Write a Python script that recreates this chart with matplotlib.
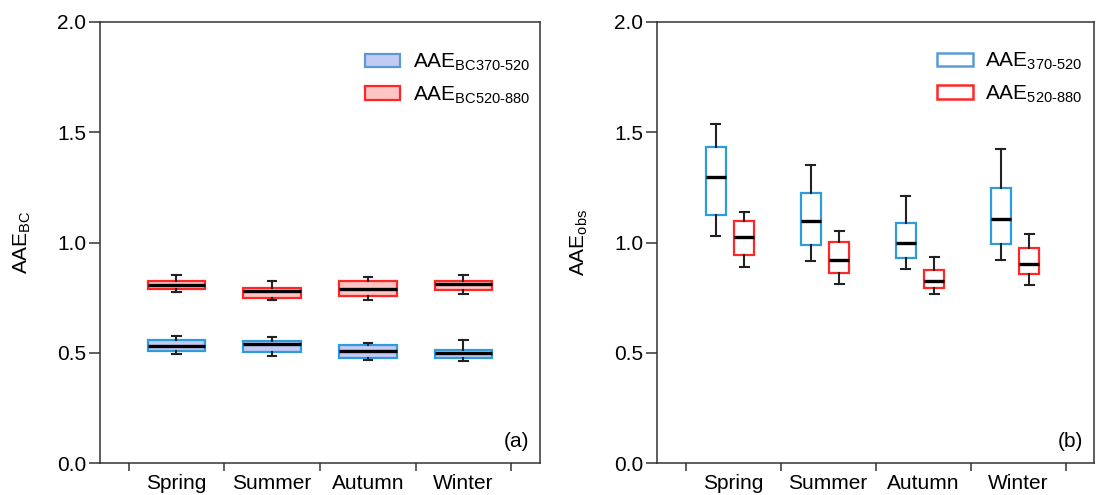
import matplotlib
matplotlib.use("Agg")
import matplotlib.pyplot as plt
from matplotlib.patches import Patch

plt.rcParams['font.family'] = ['Liberation Sans', 'DejaVu Sans']
plt.rcParams['mathtext.fontset'] = 'custom'
plt.rcParams['mathtext.rm'] = 'Liberation Sans'
plt.rcParams['mathtext.it'] = 'Liberation Sans:italic'
plt.rcParams['mathtext.bf'] = 'Liberation Sans:bold'

seasons = ['Spring', 'Summer', 'Autumn', 'Winter']

# Panel (a): AAE_BC
bc370_lo = [0.496, 0.484, 0.466, 0.463]
bc370_q1 = [0.508, 0.505, 0.476, 0.475]
bc370_med = [0.529, 0.538, 0.509, 0.500]
bc370_q3 = [0.556, 0.552, 0.537, 0.514]
bc370_hi = [0.576, 0.570, 0.544, 0.556]

bc520_lo = [0.774, 0.738, 0.741, 0.768]
bc520_q1 = [0.788, 0.750, 0.756, 0.786]
bc520_med = [0.807, 0.780, 0.791, 0.812]
bc520_q3 = [0.827, 0.794, 0.824, 0.825]
bc520_hi = [0.853, 0.824, 0.845, 0.853]

# Panel (b): AAE_obs
obs370_lo = [1.028, 0.915, 0.881, 0.922]
obs370_q1 = [1.126, 0.987, 0.928, 0.995]
obs370_med = [1.297, 1.096, 0.996, 1.107]
obs370_q3 = [1.432, 1.226, 1.087, 1.246]
obs370_hi = [1.539, 1.350, 1.212, 1.424]

obs520_lo = [0.891, 0.813, 0.766, 0.806]
obs520_q1 = [0.945, 0.860, 0.795, 0.857]
obs520_med = [1.024, 0.919, 0.827, 0.902]
obs520_q3 = [1.096, 1.002, 0.874, 0.974]
obs520_hi = [1.138, 1.052, 0.934, 1.039]

yticks = [0.0, 0.5, 1.0, 1.5, 2.0]

BLUE = '#2E9BDB'
BLUE_FILL = '#C3CBF5'
RED = '#FF2626'
RED_FILL = '#FFC4C4'
SPINE = '#333333'
FS = 15


def stats(lo, q1, med, q3, hi):
    return [dict(whislo=a, q1=b, med=c, q3=d, whishi=e, fliers=[])
            for a, b, c, d, e in zip(lo, q1, med, q3, hi)]


def draw(ax, st, pos, width, capw, edge, fill):
    ax.bxp(st, positions=pos, widths=width, capwidths=capw,
           patch_artist=True, showfliers=False, manage_ticks=False,
           boxprops=dict(facecolor=fill, edgecolor=edge, linewidth=1.6),
           medianprops=dict(color='black', linewidth=2.4, solid_capstyle='butt'),
           whiskerprops=dict(color='#222222', linewidth=1.5),
           capprops=dict(color='#222222', linewidth=1.5))


def style(ax, ylabel, tag):
    ax.set_xlim(0.2, 4.8)
    ax.set_ylim(0, 2)
    ax.set_yticks(yticks)
    ax.set_yticklabels([f'{v:.1f}' for v in yticks])
    ax.set_xticks([0.5, 1.5, 2.5, 3.5, 4.5])
    ax.set_xticklabels([])
    ax.set_xticks([1, 2, 3, 4], minor=True)
    ax.set_xticklabels(seasons, minor=True)
    ax.tick_params(axis='x', which='major', direction='out', length=6, width=1.1, color=SPINE)
    ax.tick_params(axis='x', which='minor', length=0, pad=8, labelsize=FS)
    ax.tick_params(axis='y', direction='out', length=8, width=1.1, color=SPINE, pad=2, labelsize=FS)
    for s in ax.spines.values():
        s.set_linewidth(1.1)
        s.set_color(SPINE)
    ax.set_ylabel(ylabel, fontsize=FS, labelpad=17)
    ax.text(0.975, 0.048, tag, transform=ax.transAxes, ha='right', va='center', fontsize=FS)


fig = plt.figure(figsize=(10.96, 4.95), dpi=100)
ax1 = fig.add_axes([0.0912, 0.0646, 0.4015, 0.891])
ax2 = fig.add_axes([0.5995, 0.0646, 0.3987, 0.891])

x = [1, 2, 3, 4]
draw(ax1, stats(bc370_lo, bc370_q1, bc370_med, bc370_q3, bc370_hi), x, 0.6, 0.085, BLUE, BLUE_FILL)
draw(ax1, stats(bc520_lo, bc520_q1, bc520_med, bc520_q3, bc520_hi), x, 0.6, 0.085, RED, RED_FILL)

xb = [i - 0.18 for i in x]
xr = [i + 0.12 for i in x]
draw(ax2, stats(obs370_lo, obs370_q1, obs370_med, obs370_q3, obs370_hi), xb, 0.21, 0.094, BLUE, 'white')
draw(ax2, stats(obs520_lo, obs520_q1, obs520_med, obs520_q3, obs520_hi), xr, 0.21, 0.094, RED, 'white')

style(ax1, r'$\mathrm{AAE}_{\mathrm{BC}}$', '(a)')
style(ax2, r'$\mathrm{AAE}_{\mathrm{obs}}$', '(b)')

h1 = [Patch(facecolor=BLUE_FILL, edgecolor='#5B9BD5', linewidth=1.6,
            label=r'$\mathrm{AAE}_{\text{BC370-520}}$'),
      Patch(facecolor=RED_FILL, edgecolor=RED, linewidth=1.6,
            label=r'$\mathrm{AAE}_{\text{BC520-880}}$')]
ax1.legend(handles=h1, loc='upper left', bbox_to_anchor=(0.602, 0.933), frameon=False,
           fontsize=FS, handlelength=1.7, handleheight=0.6, handletextpad=0.6,
           labelspacing=0.55, borderpad=0, borderaxespad=0)

h2 = [Patch(facecolor='white', edgecolor='#5B9BD5', linewidth=1.8,
            label=r'$\mathrm{AAE}_{\text{370-520}}$'),
      Patch(facecolor='white', edgecolor=RED, linewidth=1.8,
            label=r'$\mathrm{AAE}_{\text{520-880}}$')]
ax2.legend(handles=h2, loc='upper left', bbox_to_anchor=(0.641, 0.935), frameon=False,
           fontsize=FS, handlelength=1.7, handleheight=0.6, handletextpad=0.6,
           labelspacing=0.55, borderpad=0, borderaxespad=0)

fig.savefig('out.png', dpi=100)
